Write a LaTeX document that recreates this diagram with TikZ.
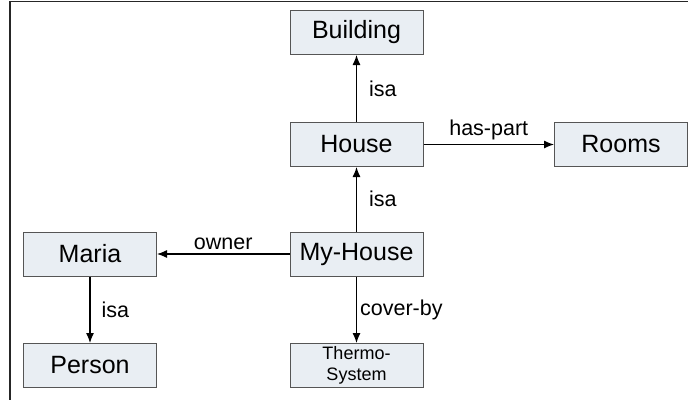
\documentclass[tikz,border=0pt]{standalone}
\usepackage{fontspec}
\setmainfont{Liberation Sans}
\usetikzlibrary{arrows.meta}

\definecolor{boxfill}{RGB}{233,238,243}
\definecolor{boxline}{RGB}{85,85,85}

\begin{document}
\begin{tikzpicture}[
    x=1pt, y=-1pt,
    > = {Latex[length=10pt, width=8pt]},
    frame/.style={draw=boxline, fill=boxfill, line width=1pt,
        minimum width=133pt, minimum height=44pt, inner sep=0pt,
        font=\fontsize{25}{28}\selectfont},
    link/.style={->, line width=1.2pt, black},
    rel/.style={font=\fontsize{21.5}{25}\selectfont, inner sep=3pt}
]
    \useasboundingbox (0,0) rectangle (688,400);

    % Outer frame (top and left edges only)
    \draw[line width=1.5pt, black!85] (688,1.5) -- (10,1.5) -- (10,400);

    % Concepts
    \node[frame] (building) at (356.5,32.5) {Building};
    \node[frame] (house) at (356.5,144.5) {House};
    \node[frame] (rooms) at (621,144.5) {Rooms};
    \node[frame] (maria) at (90,254) {Maria};
    \node[frame] (myhouse) at (356.5,254) {My-House};
    \node[frame] (person) at (90,365.5) {Person};
    \node[frame, align=center, font=\fontsize{18}{21}\selectfont] (thermo) at (356.5,365.5) {Thermo-\\System};

    % Relations
    \draw[link] (house) -- node[rel, right, xshift=9pt] {isa} (building);
    \draw[link] (house) -- node[rel, above, yshift=1pt] {has-part} (rooms);
    \draw[link] (myhouse) -- node[rel, right, xshift=9pt] {isa} (house);
    \draw[link] (myhouse) -- node[rel, above, yshift=1pt] {owner} (maria);
    \draw[link] (maria) -- node[rel, right, xshift=8pt] {isa} (person);
    \draw[link] (myhouse) -- node[rel, right, xshift=0pt] {cover-by} (thermo);
\end{tikzpicture}
\end{document}
